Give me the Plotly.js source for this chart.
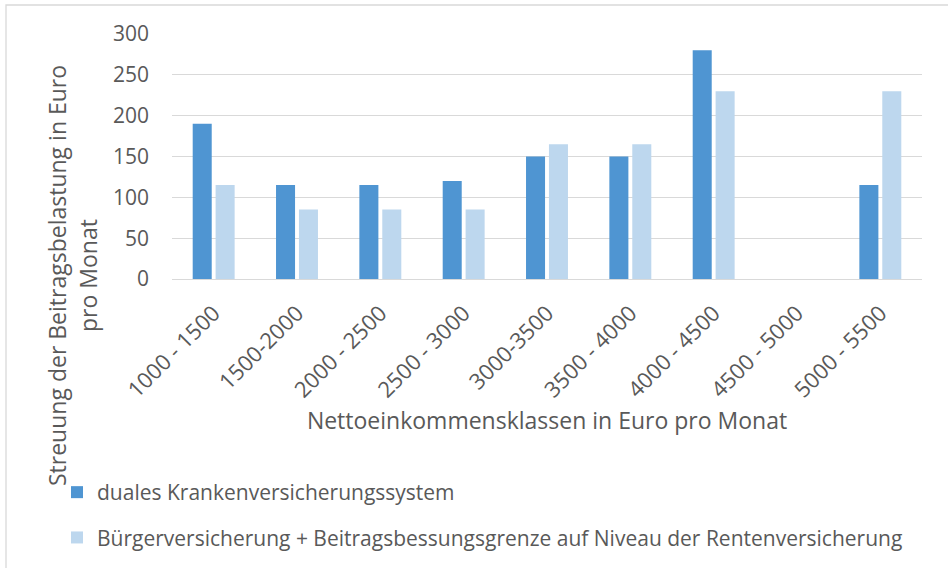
<!DOCTYPE html>
<html>
<head>
<meta charset="utf-8">
<script src="https://cdn.plot.ly/plotly-3.0.1.min.js"></script>
<style>html,body{margin:0;padding:0;background:#fff;}#chart{width:948px;height:568px;}</style>
</head>
<body>
<div id="chart"></div>
<script>
const categories = ["1000 - 1500", "1500-2000", "2000 - 2500", "2500 - 3000", "3000-3500", "3500 - 4000", "4000 - 4500", "4500 - 5000", "5000 - 5500"];
const dualesSystem = [190, 115, 115, 120, 150, 150, 280, 0, 115];
const buergerversicherung = [115, 85, 85, 85, 165, 165, 230, 0, 230];
const seriesNames = ["duales Krankenversicherungssystem", "Bürgerversicherung + Beitragsbessungsgrenze auf Niveau der Rentenversicherung"];
const yTicks = [0, 50, 100, 150, 200, 250, 300];

const textColor = "#595959";
const fontFam = "Open Sans, sans-serif";

const L = 172, R = 26, T = 34, B = 289;
const W = 948, H = 568;
const pw = W - L - R, ph = H - T - B;
const px = x => (x - L) / pw;
const py = y => (H - B - y) / ph;

const traces = [
  {type: "bar", x: categories, y: dualesSystem, name: seriesNames[0], legendgroup: "a",
   marker: {color: "#4F95D2", line: {width: 0}}, hoverinfo: "x+y+name"},
  {type: "bar", x: categories, y: buergerversicherung, name: seriesNames[1], legendgroup: "b",
   marker: {color: "#BDD7EE", line: {width: 0}}, hoverinfo: "x+y+name"}
];

const layout = {
  width: W, height: H,
  margin: {l: L, r: R, t: T, b: B, pad: 0, autoexpand: false},
  paper_bgcolor: "#ffffff", plot_bgcolor: "#ffffff",
  font: {family: fontFam, color: textColor, size: 20},
  barmode: "group", bargap: 0.45, bargroupgap: 0.17,
  showlegend: true,
  legend: {orientation: "v", xref: "container", yref: "container",
           x: 57 / W, y: 1 - 472 / H, xanchor: "left", yanchor: "top",
           font: {family: fontFam, size: 21, color: textColor},
           traceorder: "grouped", tracegroupgap: 15, bgcolor: "rgba(0,0,0,0)"},
  xaxis: {type: "category", tickangle: -45, tickfont: {size: 22, color: textColor},
          ticklabelstandoff: 16,
          showgrid: false, zeroline: false, showline: false, ticks: "",
          automargin: false,
          title: {text: "Nettoeinkommensklassen in Euro pro Monat", font: {size: 23, color: textColor}, standoff: 10}},
  yaxis: {range: [0, 300], tickvals: yTicks, ticktext: yTicks.map(String),
          tickfont: {size: 21, color: textColor}, ticklabelstandoff: 22,
          showgrid: true, gridcolor: "#D9D9D9", gridwidth: 1.3,
          zeroline: true, zerolinecolor: "#D9D9D9", zerolinewidth: 1.3,
          showline: false, ticks: "", automargin: false, fixedrange: true},
  annotations: [
    {text: "Streuung der Beitragsbelastung in Euro", textangle: -90, showarrow: false,
     xref: "paper", yref: "paper", x: px(57), y: py(276), xanchor: "center", yanchor: "middle",
     font: {size: 23, color: textColor}},
    {text: "pro Monat", textangle: -90, showarrow: false,
     xref: "paper", yref: "paper", x: px(88), y: py(276), xanchor: "center", yanchor: "middle",
     font: {size: 23, color: textColor}}
  ],
  shapes: [
    {type: "rect", xref: "paper", yref: "paper", x0: px(6), x1: px(960), y0: py(5), y1: py(580),
     line: {color: "#D9D9D9", width: 1.3}, fillcolor: "rgba(0,0,0,0)", layer: "below"}
  ]
};

Plotly.newPlot("chart", traces, layout, {displayModeBar: false, staticPlot: false});
</script>
</body>
</html>
